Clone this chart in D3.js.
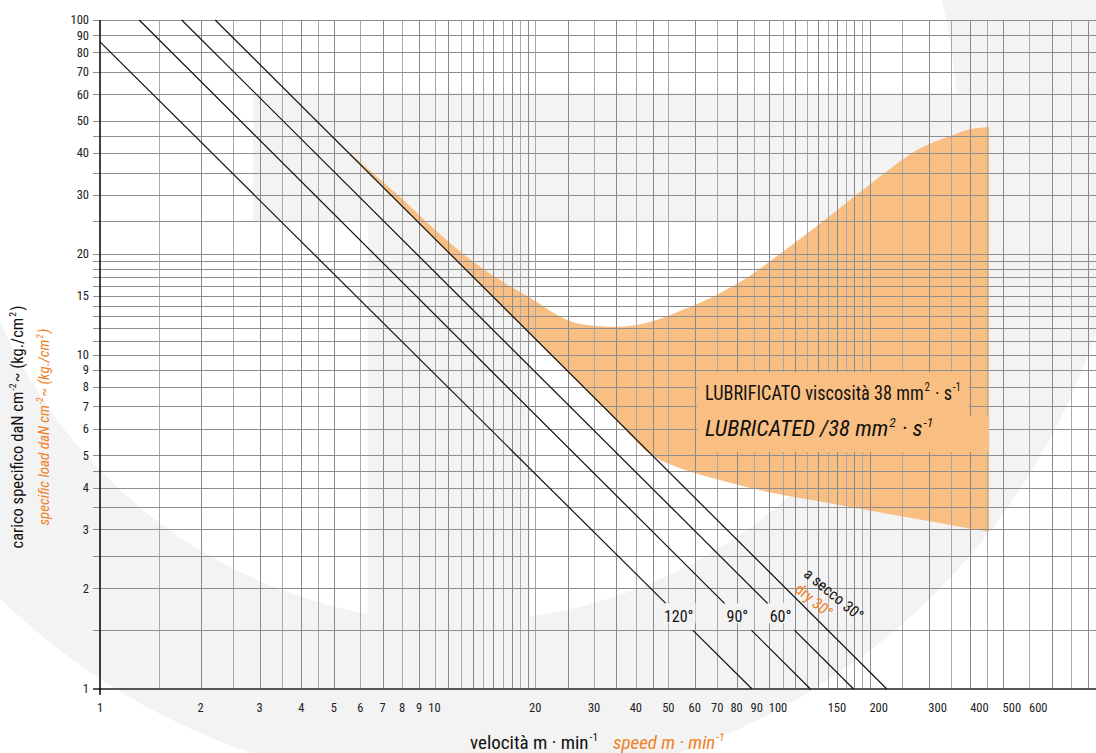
<!DOCTYPE html>
<html>
<head>
<meta charset="utf-8">
<style>
  html, body { margin: 0; padding: 0; background: #fff; }
  svg { display: block; font-family: "Myriad Pro", "Roboto Condensed", "Liberation Sans Narrow", "DejaVu Sans Condensed", "Open Sans", sans-serif; }
</style>
</head>
<body>
<script src="https://d3js.org/d3.v7.min.js"></script>
<script>
const W = 1096, H = 753;

// grid values (log paper)
const xGrid = [1, 1.5, 2, 2.5, 3, 3.5, 4, 4.5, 5, 6, 7, 8, 9,
  10, 11, 12, 13, 14, 15, 16, 17, 18, 19, 20, 25, 30, 35, 40, 45, 50, 60, 70, 80, 90,
  100, 110, 120, 130, 140, 150, 160, 170, 180, 190, 200, 250, 300, 350, 400, 450, 500, 600, 700, 800, 900];
const yGrid = [1, 1.5, 2, 2.5, 3, 3.5, 4, 4.5, 5, 6, 7, 8, 9,
  10, 11, 12, 13, 14, 15, 16, 17, 18, 19, 20, 25, 30, 35, 40, 45, 50, 60, 70, 80, 90, 100];
const xTicks = [1, 2, 3, 4, 5, 6, 7, 8, 9, 10, 20, 30, 40, 50, 60, 70, 80, 90, 100, 150, 200, 300, 400, 500, 600];
const yTicks = [1, 2, 3, 4, 5, 6, 7, 8, 9, 10, 15, 20, 30, 40, 50, 60, 70, 80, 90, 100];

// straight limit lines: [speed, load] at both ends
const lineNames = ["120°", "90°", "60°", "a secco 30°"];
const lineEnds = [
  [[1, 86], [89, 1]],
  [[1.31, 100], [133, 1]],
  [[1.755, 100], [179, 1]],
  [[2.21, 100], [225, 1]]
];

// lubricated area (upper / lower edge)
const bandUpper = [[5, 44.4], [6.28, 36.1], [7.88, 29.6], [9.9, 23.9], [12.5, 19.6], [15.7, 16.7],
  [19.7, 14.6], [23.7, 13.0], [27.8, 12.3], [35.1, 12.1], [44.1, 12.5], [55.3, 13.6], [69.9, 15.1],
  [87.7, 17.2], [110, 20.3], [139, 24.2], [175, 29.0], [219, 34.6], [277, 40.9], [348, 45.0],
  [391, 46.9], [455, 47.9]];
const bandLower = [[5, 44.4], [20, 11.1], [35, 6.35], [44, 5.05], [55, 4.55], [70, 4.24], [88, 3.99],
  [110, 3.80], [139, 3.65], [175, 3.50], [219, 3.36], [277, 3.22], [348, 3.09], [455, 2.95]];

const orange = "#f08024";
const bandFill = "#f9bf82";
const wmGray = "#f3f3f3";

const x = d3.scaleLog().domain([1, 1000]).range([100, 1103.5]);
const y = d3.scaleLog().domain([1, 100]).range([689, 20]);

const svg = d3.select("body").append("svg").attr("width", W).attr("height", H);

// background watermark (ring with a T inside)
function circle(cx, cy, r) {
  return `M${cx - r},${cy}a${r},${r} 0 1,0 ${2 * r},0a${r},${r} 0 1,0 ${-2 * r},0Z`;
}
const wm = svg.append("g").attr("fill", wmGray);
wm.append("path")
  .attr("d", circle(465, 123, 665) + circle(458, 123, 499))
  .attr("fill-rule", "evenodd");
wm.append("rect").attr("x", 253).attr("y", 93).attr("width", 720).attr("height", 129);
wm.append("rect").attr("x", 368).attr("y", 222).attr("width", 162).attr("height", 420);

// lubricated band
const lineU = d3.line().x(d => x(d[0])).y(d => y(d[1])).curve(d3.curveMonotoneX);
const lowRev = bandLower.slice().reverse();
svg.append("path")
  .attr("d", lineU(bandUpper) + lineU(lowRev).replace(/^M/, "L") + "Z")
  .attr("fill", bandFill);

// grid
const grid = svg.append("g").attr("stroke", "#8e8e8e").attr("stroke-width", 1).attr("shape-rendering", "crispEdges");
grid.selectAll("line.v").data(xGrid.slice(1)).enter().append("line")
  .attr("x1", d => Math.round(x(d)) + 0.5).attr("x2", d => Math.round(x(d)) + 0.5)
  .attr("y1", y(100)).attr("y2", y(1))
  .attr("stroke", (d, i) => i % 2 ? "#8a8a8a" : "#a8a8a8");
grid.selectAll("line.h").data(yGrid.slice(1)).enter().append("line")
  .attr("x1", 93).attr("x2", W)
  .attr("y1", d => Math.round(y(d)) + 0.5).attr("y2", d => Math.round(y(d)) + 0.5);

// axes
svg.append("line").attr("x1", 93).attr("x2", W).attr("y1", y(1)).attr("y2", y(1))
  .attr("stroke", "#555").attr("stroke-width", 2);
svg.append("line").attr("x1", x(1)).attr("x2", x(1)).attr("y1", y(100)).attr("y2", y(1) + 6)
  .attr("stroke", "#000").attr("stroke-width", 1.5);

svg.append("g").selectAll("text").data(yTicks).enter().append("text")
  .attr("x", 89).attr("y", d => y(d)).attr("dy", "0.35em")
  .attr("text-anchor", "end").attr("font-size", 12.5).attr("fill", "#222")
  .text(d => d);
svg.append("g").selectAll("text").data(xTicks).enter().append("text")
  .attr("x", d => x(d) + (d >= 100 ? 9 : d === 90 ? 3 : 0)).attr("y", 712)
  .attr("text-anchor", "middle").attr("font-size", 12.5).attr("fill", "#222")
  .text(d => d);

// limit lines, the first three broken around their labels
function xAtY(ends, v) {
  const [[x0, y0], [x1, y1]] = ends;
  const t = (Math.log(v) - Math.log(y0)) / (Math.log(y1) - Math.log(y0));
  return Math.exp(Math.log(x0) + t * (Math.log(x1) - Math.log(x0)));
}
const lines = svg.append("g").attr("stroke", "#111").attr("stroke-width", 1.2).attr("fill", "none");
const labels = svg.append("g");
lineEnds.forEach((ends, i) => {
  const segs = i < 3
    ? [[ends[0], [xAtY(ends, 1.8), 1.8]], [[xAtY(ends, 1.5), 1.5], ends[1]]]
    : [ends];
  segs.forEach(s => lines.append("path").attr("d", d3.line().x(d => x(d[0])).y(d => y(d[1]))(s)));
  if (i < 3) {
    const lx = x(xAtY(ends, 1.65)), ly = y(1.65);
    const t = labels.append("text").attr("x", lx).attr("y", ly).attr("dy", "0.35em")
      .attr("text-anchor", "middle").attr("font-size", 16).attr("fill", "#111")
      .text(lineNames[i]);
    const bb = t.node().getBBox();
    labels.insert("rect", () => t.node()).attr("x", bb.x - 2).attr("y", ly - 13).attr("width", bb.width + 4)
      .attr("height", 20).attr("fill", wmGray);
  }
});

// dry line label
{
  const ends = lineEnds[3];
  const px = x(xAtY(ends, 1.66)), py = y(1.66);
  svg.append("text").attr("transform", `translate(${px + 21},${py - 21}) rotate(40)`)
    .attr("text-anchor", "middle").attr("dy", "0.35em").attr("font-size", 15.5).attr("fill", "#111")
    .text(lineNames[3]);
  const qx = x(xAtY(ends, 1.74)), qy = y(1.74);
  svg.append("text").attr("transform", `translate(${qx + 8},${qy - 8}) rotate(40)`)
    .attr("text-anchor", "middle").attr("dy", "0.35em").attr("font-size", 15.5).attr("fill", orange)
    .text("dry 30°");
}

// text with superscripts
function rich(sel, parts, size) {
  let up = false;
  parts.forEach(p => {
    const t = sel.append("tspan").text(p[0]);
    if (p[1]) {
      t.attr("font-size", size * 0.6).attr("dx", 1);
      if (!up) { t.attr("dy", -size * 0.42); up = true; }
    } else if (up) { t.attr("dy", size * 0.42).attr("dx", 1); up = false; }
  });
  return sel;
}

// lubricated legend (squeezed horizontally like the condensed original)
const leg = svg.append("g");
const l1 = rich(leg.append("text").attr("transform", "translate(705,400) scale(0.87,1)")
  .attr("font-size", 21).attr("fill", "#111"),
  [["LUBRIFICATO viscosità 38 mm"], ["2", 1], [" · s"], ["-1", 1]], 21);
rich(leg.append("text").attr("transform", "translate(705,436) scale(1.03,1)")
  .attr("font-size", 22).attr("font-style", "italic").attr("fill", "#111"),
  [["LUBRICATED /38 mm"], ["2", 1], [" · s"], ["-1", 1]], 22);
leg.insert("rect", () => l1.node()).attr("x", 697).attr("y", 372).attr("width", 272).attr("height", 45).attr("fill", bandFill);
leg.insert("rect", () => l1.node()).attr("x", 697).attr("y", 416).attr("width", x(455) - 697).attr("height", 36).attr("fill", bandFill);

// axis titles
rich(svg.append("text").attr("x", 470).attr("y", 749).attr("font-size", 19).attr("fill", "#111"),
  [["velocità m · min"], ["-1", 1]], 19);
rich(svg.append("text").attr("x", 613).attr("y", 749).attr("font-size", 19).attr("font-style", "italic").attr("fill", orange),
  [["speed m · min"], ["-1", 1]], 19);

rich(svg.append("text").attr("transform", "translate(23,427) rotate(-90)").attr("text-anchor", "middle")
  .attr("font-size", 16.5).attr("fill", "#111"),
  [["carico specifico daN  cm"], ["-2", 1], ["~ (kg./cm"], ["2", 1], [")"]], 16.5);
rich(svg.append("text").attr("transform", "translate(49,427) rotate(-90)").attr("text-anchor", "middle")
  .attr("font-size", 15).attr("font-style", "italic").attr("fill", orange),
  [["specific load daN  cm"], ["-2", 1], ["~ (kg./cm"], ["2", 1], [")"]], 15);
</script>
</body>
</html>
